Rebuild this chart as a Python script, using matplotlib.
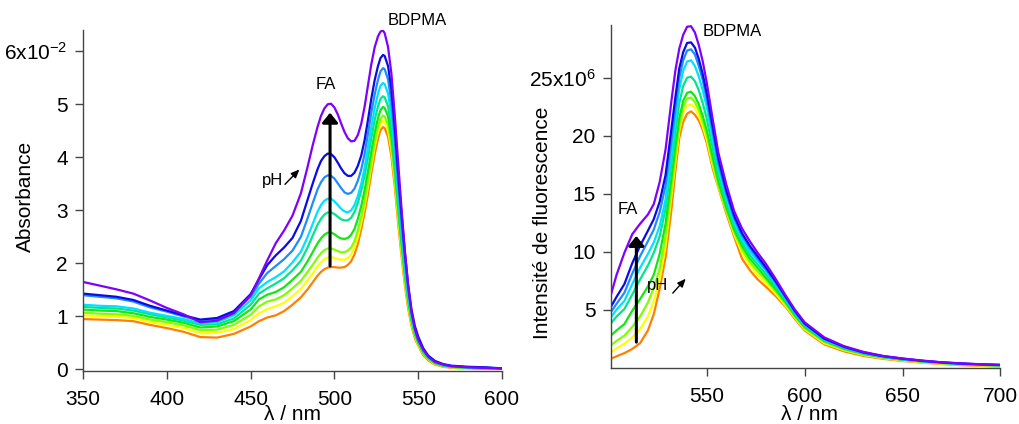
import matplotlib
matplotlib.use("Agg")
import matplotlib.pyplot as plt

plt.rcParams['font.family'] = ['Liberation Sans', 'DejaVu Sans']
plt.rcParams['mathtext.fontset'] = 'custom'
plt.rcParams['mathtext.rm'] = 'Liberation Sans'
plt.rcParams['mathtext.it'] = 'Liberation Sans:italic'

colors = ['#7f00ff', '#0a0ae6', '#1e8cff', '#00e1ff', '#00e68c',
          '#14e614', '#80ff00', '#ffff00', '#ff8000']

# ---------------- Absorbance (x1e-2) ----------------
wl_abs = [350, 360, 370, 380, 390, 400, 410, 420, 430, 440, 450, 455, 460, 465, 470, 475,
          480, 484, 487, 490, 492, 494, 496, 498, 500, 502, 504, 506, 508, 510, 512, 514,
          516, 518, 520, 522, 524, 526, 527.5, 529, 530, 532, 534, 536, 538, 540, 542, 544,
          546, 548, 550, 553, 556, 560, 565, 570, 580, 590, 600]

abs_violet = [1.65, 1.58, 1.51, 1.43, 1.30, 1.16, 1.04, 0.89, 0.92, 1.06, 1.40, 1.72, 2.06, 2.38, 2.62, 2.90,
              3.32, 3.82, 4.22, 4.58, 4.78, 4.92, 5.00, 5.01, 4.94, 4.81, 4.64, 4.48, 4.36, 4.30, 4.31, 4.42,
              4.63, 4.95, 5.35, 5.75, 6.07, 6.28, 6.37, 6.39, 6.34, 6.08, 5.58, 4.80, 3.92, 3.05, 2.25, 1.58,
              1.08, 0.76, 0.56, 0.37, 0.24, 0.14, 0.09, 0.06, 0.04, 0.03, 0.02]
abs_blue = [1.43, 1.40, 1.37, 1.31, 1.20, 1.11, 1.02, 0.94, 0.97, 1.10, 1.42, 1.70, 1.97, 2.15, 2.30, 2.48,
            2.80, 3.20, 3.50, 3.78, 3.93, 4.02, 4.07, 4.06, 4.00, 3.90, 3.79, 3.70, 3.65, 3.65, 3.71, 3.84,
            4.03, 4.32, 4.70, 5.10, 5.45, 5.72, 5.87, 5.93, 5.91, 5.72, 5.28, 4.55, 3.70, 2.95, 2.22, 1.60,
            1.13, 0.82, 0.62, 0.40, 0.26, 0.16, 0.10, 0.07, 0.05, 0.04, 0.02]
abs_dodger = [1.40, 1.37, 1.34, 1.28, 1.17, 1.09, 1.00, 0.92, 0.95, 1.07, 1.37, 1.62, 1.82, 1.95, 2.08, 2.24,
              2.50, 2.85, 3.13, 3.40, 3.53, 3.62, 3.66, 3.65, 3.60, 3.51, 3.42, 3.34, 3.31, 3.33, 3.41, 3.56,
              3.77, 4.06, 4.44, 4.84, 5.18, 5.46, 5.62, 5.68, 5.66, 5.47, 5.04, 4.35, 3.52, 2.76, 2.08, 1.50,
              1.06, 0.77, 0.58, 0.38, 0.25, 0.15, 0.09, 0.06, 0.04, 0.03, 0.02]
abs_cyan = [1.22, 1.20, 1.19, 1.15, 1.07, 1.01, 0.95, 0.87, 0.89, 1.02, 1.30, 1.53, 1.65, 1.74, 1.85, 2.02,
            2.22, 2.50, 2.74, 2.98, 3.10, 3.18, 3.22, 3.22, 3.17, 3.10, 3.03, 2.98, 2.96, 3.00, 3.10, 3.27,
            3.50, 3.80, 4.17, 4.56, 4.92, 5.20, 5.35, 5.40, 5.38, 5.20, 4.79, 4.13, 3.34, 2.62, 1.97, 1.42,
            1.01, 0.73, 0.55, 0.36, 0.23, 0.14, 0.08, 0.06, 0.04, 0.03, 0.02]
abs_spring = [1.18, 1.16, 1.15, 1.11, 1.04, 0.98, 0.92, 0.84, 0.85, 0.96, 1.22, 1.43, 1.53, 1.62, 1.72, 1.87,
              2.05, 2.30, 2.52, 2.73, 2.84, 2.92, 2.96, 2.96, 2.93, 2.88, 2.83, 2.81, 2.81, 2.86, 2.97, 3.14,
              3.37, 3.65, 3.99, 4.36, 4.70, 4.96, 5.10, 5.15, 5.13, 4.96, 4.57, 3.94, 3.19, 2.50, 1.88, 1.36,
              0.97, 0.70, 0.53, 0.34, 0.22, 0.13, 0.08, 0.05, 0.04, 0.03, 0.02]
abs_green = [1.13, 1.11, 1.10, 1.06, 0.99, 0.94, 0.88, 0.79, 0.81, 0.91, 1.13, 1.32, 1.41, 1.46, 1.55, 1.69,
             1.84, 2.04, 2.21, 2.38, 2.47, 2.54, 2.58, 2.58, 2.55, 2.50, 2.47, 2.46, 2.48, 2.54, 2.65, 2.84,
             3.08, 3.38, 3.73, 4.10, 4.46, 4.74, 4.89, 4.95, 4.93, 4.77, 4.39, 3.78, 3.06, 2.40, 1.80, 1.30,
             0.93, 0.67, 0.51, 0.32, 0.21, 0.12, 0.07, 0.05, 0.03, 0.02, 0.01]
abs_ygreen = [1.07, 1.05, 1.04, 1.01, 0.94, 0.89, 0.83, 0.74, 0.75, 0.84, 1.03, 1.19, 1.28, 1.32, 1.40, 1.53,
              1.67, 1.84, 1.97, 2.11, 2.19, 2.25, 2.28, 2.28, 2.26, 2.23, 2.21, 2.21, 2.24, 2.30, 2.42, 2.62,
              2.88, 3.19, 3.55, 3.93, 4.30, 4.58, 4.73, 4.79, 4.77, 4.61, 4.24, 3.65, 2.95, 2.31, 1.73, 1.25,
              0.89, 0.64, 0.49, 0.30, 0.20, 0.11, 0.06, 0.04, 0.03, 0.02, 0.01]
abs_yellow = [1.02, 1.00, 0.99, 0.97, 0.89, 0.84, 0.78, 0.68, 0.69, 0.76, 0.93, 1.06, 1.14, 1.19, 1.26, 1.38,
              1.52, 1.68, 1.81, 1.95, 2.02, 2.08, 2.11, 2.12, 2.10, 2.08, 2.07, 2.07, 2.10, 2.17, 2.30, 2.50,
              2.77, 3.08, 3.44, 3.82, 4.19, 4.48, 4.63, 4.69, 4.67, 4.51, 4.14, 3.56, 2.87, 2.24, 1.67, 1.21,
              0.86, 0.62, 0.47, 0.29, 0.19, 0.10, 0.06, 0.04, 0.02, 0.02, 0.01]
abs_orange = [0.95, 0.94, 0.93, 0.91, 0.84, 0.78, 0.71, 0.61, 0.60, 0.67, 0.81, 0.91, 0.98, 1.02, 1.10, 1.22,
              1.36, 1.51, 1.64, 1.77, 1.84, 1.89, 1.92, 1.93, 1.93, 1.92, 1.92, 1.93, 1.97, 2.04, 2.17, 2.37,
              2.64, 2.95, 3.30, 3.69, 4.05, 4.35, 4.51, 4.57, 4.55, 4.39, 4.02, 3.45, 2.77, 2.15, 1.60, 1.15,
              0.82, 0.59, 0.45, 0.27, 0.17, 0.09, 0.05, 0.03, 0.02, 0.01, 0.01]
abs_series = [abs_violet, abs_blue, abs_dodger, abs_cyan, abs_spring,
              abs_green, abs_ygreen, abs_yellow, abs_orange]

abs_xticks = [350, 400, 450, 500, 550, 600]
abs_yticks = [0, 1, 2, 3, 4, 5, 6]
abs_yticklabels = ['0', '1', '2', '3', '4', '5', '6x10$^{\\mathrm{-2}}$']

# ---------------- Fluorescence (x1e6) ----------------
wl_fl = [501, 504, 508, 512, 516, 520, 523, 526, 529, 532, 534, 536, 538, 540, 542, 544,
         546, 548, 550, 553, 556, 560, 564, 568, 572, 576, 580, 585, 590, 595, 600, 610,
         620, 630, 640, 650, 660, 670, 680, 690, 700]

fl_violet = [6.2, 8.0, 9.9, 11.5, 12.4, 13.2, 14.1, 16.0, 18.8, 23.0, 25.6, 27.5, 28.7, 29.4, 29.45, 28.9,
             27.8, 26.4, 24.6, 21.5, 18.5, 15.8, 13.5, 12.0, 10.9, 9.9, 9.0, 7.7, 6.3, 5.0, 3.9, 2.6,
             1.85, 1.35, 1.0, 0.78, 0.6, 0.45, 0.36, 0.28, 0.23]
fl_blue = [5.2, 6.1, 7.2, 9.0, 10.5, 11.8, 12.8, 14.3, 16.6, 20.6, 23.3, 25.8, 27.2, 28.0, 28.05, 27.6,
           26.6, 25.3, 23.7, 20.8, 18.0, 15.3, 13.1, 11.6, 10.5, 9.6, 8.7, 7.5, 6.2, 4.9, 3.8, 2.5,
           1.8, 1.3, 0.98, 0.76, 0.58, 0.44, 0.34, 0.27, 0.22]
fl_dodger = [4.75, 5.5, 6.45, 8.1, 9.6, 10.9, 11.9, 13.4, 15.7, 19.6, 22.4, 25.0, 26.5, 27.35, 27.45, 27.0,
             26.0, 24.8, 23.2, 20.4, 17.6, 15.0, 12.9, 11.4, 10.3, 9.4, 8.5, 7.35, 6.1, 4.8, 3.75, 2.45,
             1.75, 1.28, 0.96, 0.74, 0.57, 0.43, 0.33, 0.26, 0.21]
fl_cyan = [4.3, 5.0, 5.75, 7.2, 8.6, 9.8, 10.8, 12.2, 14.5, 18.5, 21.3, 24.0, 25.6, 26.4, 26.5, 26.0,
           25.1, 23.9, 22.5, 19.8, 17.2, 14.7, 12.6, 11.1, 10.0, 9.2, 8.4, 7.25, 6.0, 4.75, 3.7, 2.4,
           1.72, 1.25, 0.94, 0.72, 0.55, 0.42, 0.32, 0.25, 0.2]
fl_spring = [3.8, 4.4, 5.05, 6.3, 7.6, 8.8, 9.9, 11.3, 13.7, 17.6, 20.3, 22.8, 24.3, 25.0, 25.1, 24.7,
             23.9, 22.8, 21.5, 19.0, 16.6, 14.2, 12.2, 10.8, 9.7, 8.9, 8.1, 7.0, 5.85, 4.6, 3.6, 2.35,
             1.68, 1.22, 0.92, 0.7, 0.54, 0.41, 0.31, 0.24, 0.19]
fl_green = [2.75, 3.2, 3.75, 4.9, 5.9, 7.0, 8.0, 9.8, 12.4, 16.3, 19.0, 21.5, 23.0, 23.7, 23.8, 23.4,
            22.7, 21.7, 20.5, 18.2, 16.0, 13.8, 11.9, 10.5, 9.4, 8.6, 7.8, 6.8, 5.7, 4.5, 3.5, 2.3,
            1.62, 1.18, 0.88, 0.68, 0.52, 0.39, 0.3, 0.23, 0.18]
fl_ygreen = [1.9, 2.3, 2.75, 3.5, 4.4, 5.6, 6.9, 8.5, 11.4, 15.5, 18.3, 20.9, 22.5, 23.2, 23.3, 22.9,
             22.2, 21.2, 20.1, 17.8, 15.7, 13.6, 11.7, 10.2, 9.1, 8.3, 7.6, 6.6, 5.55, 4.4, 3.4, 2.2,
             1.57, 1.14, 0.85, 0.65, 0.5, 0.37, 0.28, 0.21, 0.16]
fl_yellow = [1.3, 1.65, 2.05, 2.6, 3.3, 4.4, 5.7, 7.6, 10.5, 14.8, 17.7, 20.4, 22.0, 22.6, 22.7, 22.4,
             21.7, 20.8, 19.7, 17.5, 15.6, 13.5, 11.5, 9.9, 8.8, 8.0, 7.3, 6.4, 5.4, 4.3, 3.3, 2.1,
             1.5, 1.08, 0.8, 0.6, 0.45, 0.33, 0.24, 0.17, 0.12]
fl_orange = [0.75, 0.97, 1.24, 1.6, 2.1, 3.2, 4.6, 6.8, 9.5, 13.6, 16.9, 19.8, 21.2, 21.9, 22.1, 21.8,
             21.3, 20.5, 19.4, 17.2, 15.5, 13.3, 11.3, 9.4, 8.4, 7.6, 7.0, 6.2, 5.3, 4.2, 3.2, 2.0,
             1.4, 1.0, 0.75, 0.56, 0.42, 0.3, 0.2, 0.14, 0.09]
fl_series = [fl_violet, fl_blue, fl_dodger, fl_cyan, fl_spring,
             fl_green, fl_ygreen, fl_yellow, fl_orange]

fl_xticks = [550, 600, 650, 700]
fl_yticks = [5, 10, 15, 20, 25]
fl_yticklabels = ['5', '10', '15', '20', '25x10$^{\\mathrm{6}}$']

# ---------------- Figure ----------------
fig = plt.figure(figsize=(10.2, 4.24), dpi=100)
W, H = 1020, 424
ax1 = fig.add_axes([83 / W, 1 - 370.5 / H, (502 - 83) / W, (370.5 - 30) / H])
ax2 = fig.add_axes([610.7 / W, 1 - 367.5 / H, (1000.5 - 610.7) / W, (367.5 - 25) / H])

spine_col = '#444444'
for ax in (ax1, ax2):
    for s in ('top', 'right'):
        ax.spines[s].set_visible(False)
    for s in ('left', 'bottom'):
        ax.spines[s].set_color(spine_col)
        ax.spines[s].set_linewidth(1.0)
    ax.tick_params(direction='out', length=6, width=1.0, color=spine_col,
                   labelsize=15, labelcolor='black')
    ax.tick_params(axis='x', pad=8)
    ax.tick_params(axis='y', pad=5)

for c, ys in zip(colors[::-1], abs_series[::-1]):
    ax1.plot(wl_abs, ys, color=c, lw=1.6, solid_joinstyle='round')
ax1.set_xlim(350, 600)
ax1.set_ylim(-0.02, 6.40)
ax1.set_xticks(abs_xticks)
ax1.set_yticks(abs_yticks)
ax1.set_yticklabels(abs_yticklabels)

for c, ys in zip(colors[::-1], fl_series[::-1]):
    ax2.plot(wl_fl, ys, color=c, lw=1.6, solid_joinstyle='round')
ax2.set_xlim(501, 700)
ax2.set_ylim(0, 29.55)
ax2.set_xticks(fl_xticks)
ax2.set_yticks(fl_yticks)
ax2.set_yticklabels(fl_yticklabels)

# axis labels
fig.text(25 / W, 1 - 196.5 / H, 'Absorbance', rotation=90, ha='center', va='center', fontsize=15)
fig.text(543 / W, 1 - 223 / H, 'Intensité de fluorescence', rotation=90, ha='center',
         va='center', fontsize=15)
fig.text(293 / W, 1 - 419.5 / H, 'λ / nm', ha='center', va='baseline', fontsize=15)
fig.text(810 / W, 1 - 419.5 / H, 'λ / nm', ha='center', va='baseline', fontsize=15)

# annotations - absorbance
ax1.text(549.6, 6.57, 'BDPMA', ha='center', va='center', fontsize=12, clip_on=False)
ax1.text(495.0, 5.37, 'FA', ha='center', va='center', fontsize=12)
ax1.text(456.6, 3.47, 'pH', ha='left', va='baseline', fontsize=12)
ax1.annotate('', xy=(479.1, 3.77), xytext=(470.5, 3.49),
             arrowprops=dict(arrowstyle='-|>,head_length=0.35,head_width=0.15', lw=1.0,
                             color='k', shrinkA=0, shrinkB=0, mutation_scale=14))
ax1.annotate('', xy=(497.4, 4.84), xytext=(497.4, 1.95),
             arrowprops=dict(arrowstyle='-|>,head_length=0.29,head_width=0.235', lw=2.2,
                             color='k', shrinkA=0, shrinkB=0, mutation_scale=20))

# annotations - fluorescence
ax2.text(563.3, 29.03, 'BDPMA', ha='center', va='center', fontsize=12, clip_on=False)
ax2.text(509.6, 13.64, 'FA', ha='center', va='center', fontsize=12)
ax2.text(519.6, 6.65, 'pH', ha='left', va='baseline', fontsize=12)
ax2.annotate('', xy=(539.3, 7.66), xytext=(532.7, 6.42),
             arrowprops=dict(arrowstyle='-|>,head_length=0.35,head_width=0.15', lw=1.0,
                             color='k', shrinkA=0, shrinkB=0, mutation_scale=14))
ax2.annotate('', xy=(514.1, 11.35), xytext=(514.1, 2.19),
             arrowprops=dict(arrowstyle='-|>,head_length=0.29,head_width=0.235', lw=2.2,
                             color='k', shrinkA=0, shrinkB=0, mutation_scale=20))

fig.savefig('out.png', dpi=100)
